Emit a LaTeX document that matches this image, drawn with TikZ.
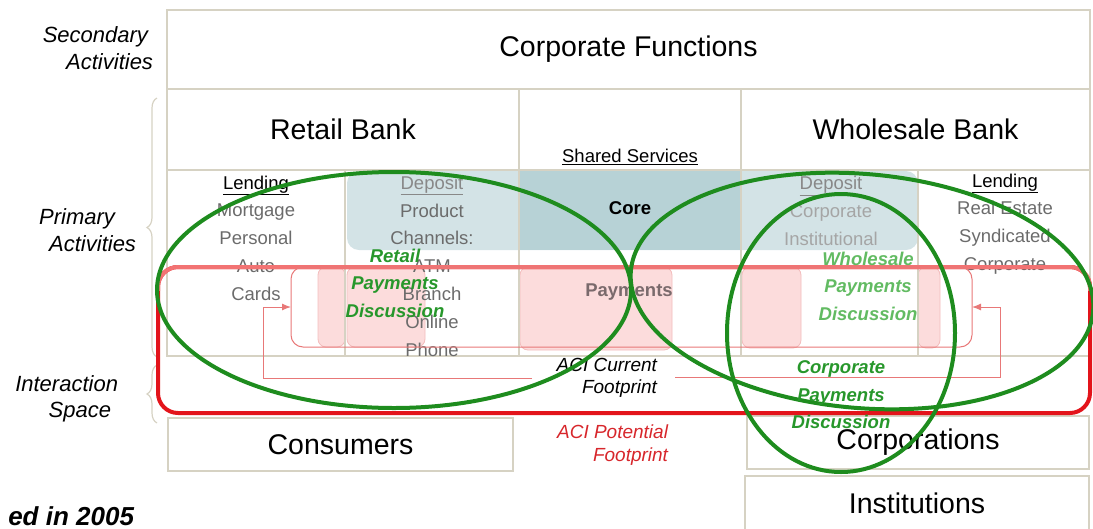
\documentclass[tikz,border=0pt]{standalone}
\usepackage{fontspec}
\setmainfont{Liberation Sans}
\usetikzlibrary{arrows.meta,decorations.pathreplacing,calc}
\definecolor{gridc}{HTML}{D6D2C3}
\definecolor{tealL}{HTML}{D3E3E6}
\definecolor{tealD}{HTML}{B7D2D6}
\definecolor{pinkF}{HTML}{FCDCDC}
\definecolor{pinkD}{HTML}{F3BDBD}
\definecolor{redM}{HTML}{E3141B}
\definecolor{redL}{HTML}{F27373}
\definecolor{redT}{HTML}{E87878}
\definecolor{greenM}{HTML}{1E8C1E}
\definecolor{greenT}{HTML}{27972B}
\definecolor{greenW}{HTML}{62BB62}
\definecolor{greyT}{HTML}{6B6B6B}
\definecolor{greyL}{HTML}{A5A5A5}
\definecolor{greyM}{HTML}{888888}
\definecolor{payT}{HTML}{7A6A6C}
\definecolor{redTxt}{HTML}{D7262B}
\begin{document}
\begin{tikzpicture}[x=1pt,y=-1pt,
  every node/.style={inner sep=0pt, outer sep=0pt},
  cell/.style={draw=gridc, line width=1.5pt, anchor=north west, align=center,
               font=\fontsize{28.5}{34}\selectfont},
  coltxt/.style={align=center, text=greyT, font=\fontsize{18.5}{27.8}\selectfont},
  sidelbl/.style={anchor=east, align=right, font=\itshape\fontsize{22}{26.5}\selectfont},
  pinkbox/.style={fill=pinkF, draw=pinkD, line width=0.8pt, rounded corners=8pt},
  gtxt/.style={align=center, font=\bfseries\itshape\fontsize{18.5}{27.5}\selectfont},
  thinred/.style={draw=redT, line width=1pt},
  greenring/.style={draw=greenM, line width=4pt},
  bracestyle/.style={draw=gridc, line width=1.2pt, decorate, decoration={brace, amplitude=10pt}}
]
\useasboundingbox (0,0) rectangle (1093,528);

% teal core band
\fill[tealL, rounded corners=12pt] (347,171) rectangle (918,250);
\fill[tealD] (519,171) rectangle (741,250);

% pink payment boxes
\path[pinkbox] (318,267) rectangle (345,347);
\path[pinkbox] (347,267) rectangle (425,347);
\path[pinkbox] (520,267) rectangle (672,350);
\path[pinkbox] (742,267) rectangle (801,348);
\path[pinkbox] (918,267) rectangle (940,348);

% grid cells
\node[cell, minimum width=923pt, minimum height=79pt] (cf) at (167,10) {Corporate Functions};
\node[cell, minimum width=352pt, minimum height=81pt] (rb) at (167,89) {Retail Bank};
\node[cell, minimum width=222pt, minimum height=81pt] (ss) at (519,89) {};
\node[cell, minimum width=349pt, minimum height=81pt] (wb) at (741,89) {Wholesale Bank};
\node[cell, minimum width=178pt, minimum height=186pt] (c1) at (167,170) {};
\node[cell, minimum width=174pt, minimum height=186pt] (c2) at (345,170) {};
\node[cell, minimum width=222pt, minimum height=186pt] (c3) at (519,170) {};
\node[cell, minimum width=177pt, minimum height=186pt] (c4) at (741,170) {};
\node[cell, minimum width=172pt, minimum height=186pt] (c5) at (918,170) {};
\node[cell, minimum width=345pt, minimum height=53pt] (cons) at (168,418) {Consumers};
\node[cell, minimum width=342pt, minimum height=53pt] (corp) at (747,416) {Corporations};
\node[cell, minimum width=344pt, minimum height=54pt] (inst) at (745,476) {Institutions};

% column texts
\node[font=\fontsize{18.5}{22}\selectfont] (sslbl) at (630,157) {\underline{Shared Services}};
\node[coltxt] (lend1) at (256,238) {{\color{black}\underline{Lending}}\\Mortgage\\Personal\\Auto\\Cards};
\node[coltxt] (dep1) at (432,266) {{\color{greyM}\underline{Deposit}}\\Product\\Channels:\\ATM\\Branch\\Online\\Phone};
\node[coltxt] (dep2) at (831,211) {{\color{greyM}\underline{Deposit}}\\{\color{greyL}Corporate}\\{\color{greyL}Institutional}};
\node[coltxt] (lend2) at (1005,224) {{\color{black}\underline{Lending}}\\Real Estate\\Syndicated\\Corporate};
\node[font=\bfseries\fontsize{18.5}{22}\selectfont] (core) at (630,208) {Core};
\node[font=\bfseries\fontsize{18.5}{22}\selectfont, text=payT] (pay) at (629,292) {Payments};

% side labels and braces
\node[sidelbl] (sec) at (153,48) {Secondary\hspace*{5pt}\\Activities};
\node[sidelbl] (prim) at (136,230) {Primary\hspace*{21pt}\\Activities};
\node[sidelbl] (inter) at (118,399) {Interaction\\Space\hspace*{7pt}};
\draw[bracestyle] (157,357) -- (157,98);
\draw[bracestyle] (157,423) -- (157,365);

% potential footprint (big red frame)
\node[draw=redM, line width=4pt, rounded corners=20pt, minimum width=932pt, minimum height=146pt, anchor=north west] (pot) at (158,267) {};
\begin{scope}
  \clip (140,250) rectangle (1100,290);
  \draw[redL, line width=4pt, rounded corners=20pt] (pot.north west) rectangle (pot.south east);
\end{scope}

% current footprint frame
\node[thinred, rounded corners=12pt, minimum width=681pt, minimum height=80pt, anchor=north west] (cur) at (291,267) {};

% footprint labels
\node[anchor=east, align=right, font=\itshape\fontsize{19}{22}\selectfont] (curlbl) at (657,378) {ACI Current\\Footprint};
\node[anchor=east, align=right, text=redTxt, font=\itshape\fontsize{19}{22.5}\selectfont] (potlbl) at (668,445) {ACI Potential\\Footprint};

% bracket arrows
\coordinate (lb) at (263,378);
\coordinate (lt) at (263,307);
\coordinate (le) at (532,378);
\coordinate (rs) at (675,377);
\coordinate (rb2) at (1000,377);
\coordinate (rt) at (1000,307);
\draw[thinred] (le) -- (lb);
\draw[thinred, -{Latex[length=9pt,width=7pt]}] (lb) -- (lt) -- (lt -| cur.west);
\draw[thinred, -{Latex[length=9pt,width=7pt]}] (rs) -- (rb2) -- (rt) -- (rt -| cur.east);

% green discussion rings
\draw[greenring] (394,290) ellipse [x radius=237, y radius=118];
\draw[greenring, rotate around={-5:(862,291)}] (862,291) ellipse [x radius=232, y radius=117];
\draw[greenring] (841,333) ellipse [x radius=114, y radius=139];

% green labels
\node[gtxt, text=greenT] (retail) at (395,283) {Retail\\Payments\\Discussion};
\node[gtxt, text=greenW] (whole) at (868,286) {Wholesale\\Payments\\Discussion};
\node[gtxt, text=greenT] (corpd) at (841,395) {Corporate\\Payments\\Discussion};

% year
\node[anchor=east, font=\bfseries\itshape\fontsize{26}{30}\selectfont] (yr) at (134,516) {ed in 2005};
\end{tikzpicture}
\end{document}
